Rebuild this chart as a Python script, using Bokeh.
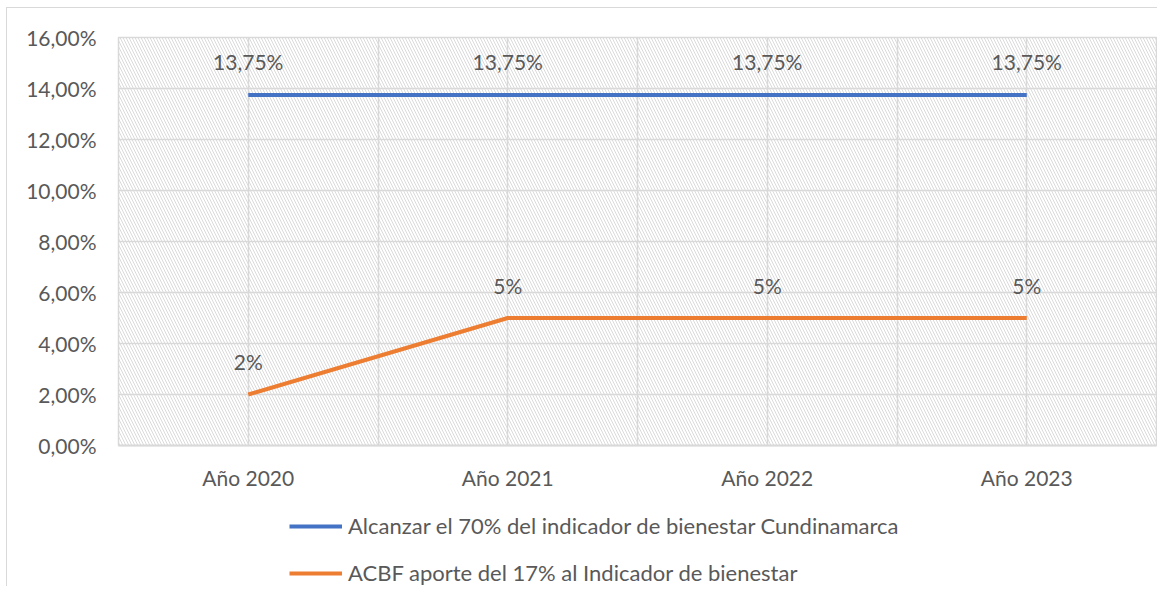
from bokeh.plotting import figure
from bokeh.layouts import column
from bokeh.models import (Range1d, FixedTicker, SingleIntervalTicker, CustomJSTickFormatter,
                          BoxAnnotation, Legend, LegendItem, ColumnDataSource)
from bokeh.core.properties import value
from bokeh.embed import file_html
from bokeh.resources import INLINE

categories = ["Año 2020", "Año 2021", "Año 2022", "Año 2023"]
meta_70 = [0.1375, 0.1375, 0.1375, 0.1375]
acbf_17 = [0.02, 0.05, 0.05, 0.05]
meta_labels = ["13,75%", "13,75%", "13,75%", "13,75%"]
acbf_labels = ["2%", "5%", "5%", "5%"]
series_names = ["Alcanzar el 70% del indicador de bienestar Cundinamarca",
                "ACBF aporte del 17% al Indicador de bienestar"]
series_colors = ["#4472C4", "#ED7D31"]

FONT = "Lato"
FS = "21px"
TXT = "#595959"
GRID = "#d9d9d9"

xs = list(range(len(categories)))
src1 = ColumnDataSource(dict(x=xs, y=meta_70, t=meta_labels))
src2 = ColumnDataSource(dict(x=xs, y=acbf_17, t=acbf_labels))

p = figure(width=1157, height=508, output_backend="svg", toolbar_location=None,
           x_range=Range1d(-0.5, len(categories) - 0.5), y_range=Range1d(0, 0.16),
           min_border_left=118, min_border_right=1, min_border_top=37, min_border_bottom=63)
p.border_fill_alpha = 0
p.background_fill_color = "white"
p.outline_line_color = GRID
p.outline_line_width = 1.5

hatch = BoxAnnotation(fill_alpha=0, line_color=None, hatch_pattern="\\", hatch_color="#dadada",
                      hatch_scale=6, hatch_weight=1, level="image")
p.add_layout(hatch)

p.xaxis.ticker = FixedTicker(ticks=xs)
p.xaxis.major_label_overrides = {i: c for i, c in enumerate(categories)}
p.xgrid.ticker = FixedTicker(ticks=[i * 0.5 - 0.5 for i in range(2 * len(categories) + 1)])
p.yaxis.ticker = SingleIntervalTicker(interval=0.02)
p.ygrid.ticker = SingleIntervalTicker(interval=0.02)
p.yaxis.formatter = CustomJSTickFormatter(code="return (tick*100).toFixed(2).replace('.', ',') + '%';")

for ax in (p.xaxis, p.yaxis):
    ax.major_tick_line_color = None
    ax.minor_tick_line_color = None
    ax.major_tick_out = 0
    ax.minor_tick_out = 0
    ax.major_label_text_font = FONT
    ax.major_label_text_font_size = FS
    ax.major_label_text_color = TXT
p.xaxis.axis_line_color = GRID
p.xaxis.axis_line_width = 2
p.yaxis.axis_line_color = None
p.xaxis.major_label_standoff = 19
p.yaxis.major_label_standoff = 22

p.xgrid.grid_line_color = GRID
p.ygrid.grid_line_color = GRID
p.xgrid.grid_line_width = 1.5
p.ygrid.grid_line_width = 1.5

r1 = p.line("x", "y", source=src1, line_color=series_colors[0], line_width=4)
r2 = p.line("x", "y", source=src2, line_color=series_colors[1], line_width=4)

for s in (src1, src2):
    p.text("x", "y", text="t", source=s, text_align="center", text_baseline="middle",
           y_offset=-33, text_font=value(FONT), text_font_size=FS, text_color=TXT)

# legend strip below the chart (its lines reuse the series, kept outside its view)
q = figure(width=1157, height=78, output_backend="svg", toolbar_location=None,
           x_axis_type=None, y_axis_type=None, min_border=0,
           x_range=Range1d(-0.5, len(categories) - 0.5), y_range=Range1d(1, 2))
q.border_fill_alpha = 0
q.background_fill_alpha = 0
q.outline_line_color = None
q.grid.visible = False
d1 = q.line("x", "y", source=src1, line_color=series_colors[0], line_width=4)
d2 = q.line("x", "y", source=src2, line_color=series_colors[1], line_width=4)
legend = Legend(items=[LegendItem(label=series_names[0], renderers=[d1]),
                       LegendItem(label=series_names[1], renderers=[d2])],
                location=(171, 0), orientation="vertical", border_line_color=None,
                background_fill_alpha=0, label_text_font=FONT, label_text_font_size="22px",
                label_text_color=TXT, glyph_width=53, glyph_height=20, label_height=20,
                spacing=20, padding=0, margin=0, label_standoff=6)
q.add_layout(legend)

layout = column(p, q, spacing=0)
layout.styles = {"background": "linear-gradient(#d9d9d9,#d9d9d9) 6px 7px / 1px 100% no-repeat, "
                               "linear-gradient(#d9d9d9,#d9d9d9) 6px 7px / 100% 1px no-repeat, white"}

open("out.html", "w").write(file_html(layout, INLINE))
